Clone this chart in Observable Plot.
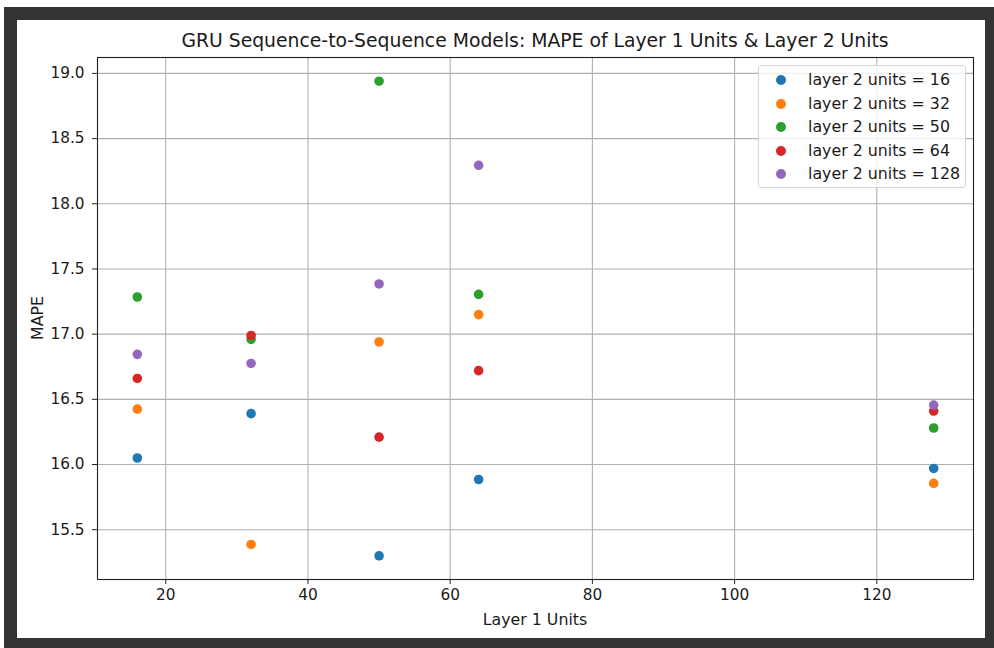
<!DOCTYPE html>
<html>
<head>
<meta charset="utf-8">
<script src="https://cdn.jsdelivr.net/npm/d3@7"></script>
<script src="https://cdn.jsdelivr.net/npm/@observablehq/plot@0.6"></script>
<style>
  html, body { margin: 0; padding: 0; width: 994px; height: 648px; overflow: hidden; background: #fff; }
  body { position: relative; font-family: "DejaVu Sans", sans-serif; color: #1a1a1a; }
  #frame { position: absolute; left: 4px; top: 7px; width: 994px; height: 644px; box-sizing: border-box; border: 13px solid #333; background: #fff; }
  #chart { position: absolute; left: 17px; top: 20px; width: 968px; height: 618px; }
  .lbl { position: absolute; white-space: nowrap; }
  #title { left: 97px; width: 876px; top: 30px; text-align: center; font-size: 18.8px; }
  #xlabel { left: 97px; width: 876px; top: 610px; text-align: center; font-size: 15.8px; }
  #ylabel { left: 37px; top: 318px; font-size: 15.8px; transform: translate(-50%, -50%) rotate(-90deg); }
  #legend { position: absolute; left: 758px; top: 65px; width: 208px; height: 123px; box-sizing: border-box;
            border: 1px solid #d6d6d6; border-radius: 3px; background: rgba(255,255,255,0.8); }
  .row { position: absolute; left: 0; height: 20px; font-size: 15.8px; line-height: 20px; }
  .sw { position: absolute; left: 17px; top: 5px; width: 10px; height: 10px; border-radius: 50%; }
  .tx { position: absolute; left: 49px; top: 0; white-space: nowrap; }
</style>
</head>
<body>
<div id="frame"></div>
<div id="chart"></div>
<div class="lbl" id="title">GRU Sequence-to-Sequence Models: MAPE of Layer 1 Units &amp; Layer 2 Units</div>
<div class="lbl" id="xlabel">Layer 1 Units</div>
<div class="lbl" id="ylabel">MAPE</div>
<div id="legend"></div>
<script>
// Layer 1 sizes on the x axis, one series per layer 2 size
const layer1Units = [16, 32, 50, 64, 128];
const layer2Units = [16, 32, 50, 64, 128];

// MAPE per layer 1 size, for each layer 2 size
const mapeL2_16  = [16.05, 16.39, 15.30, 15.885, 15.97];
const mapeL2_32  = [16.425, 15.387, 16.94, 17.15, 15.855];
const mapeL2_50  = [17.285, 16.96, 18.94, 17.305, 16.28];
const mapeL2_64  = [16.66, 16.99, 16.21, 16.72, 16.41];
const mapeL2_128 = [16.845, 16.775, 17.385, 18.295, 16.456];

const xTicks = [20, 40, 60, 80, 100, 120];
const yTicks = [15.5, 16.0, 16.5, 17.0, 17.5, 18.0, 18.5, 19.0];

const palette = ["#1f77b4", "#ff7f0e", "#2ca02c", "#d62728", "#9467bd"];
const seriesValues = [mapeL2_16, mapeL2_32, mapeL2_50, mapeL2_64, mapeL2_128];
const seriesNames = layer2Units.map(u => `layer 2 units = ${u}`);

const rows = [];
seriesValues.forEach((vals, s) => {
  vals.forEach((v, i) => rows.push({series: seriesNames[s], units: layer1Units[i], mape: v}));
});

// 5% padding around the data extent on both axes
function padded(values) {
  const [lo, hi] = d3.extent(values);
  const p = (hi - lo) * 0.05;
  return [lo - p, hi + p];
}

const plot = Plot.plot({
  width: 968,
  height: 618,
  marginLeft: 80,
  marginRight: 12,
  marginTop: 37,
  marginBottom: 59,
  style: {fontFamily: "DejaVu Sans, sans-serif", fontSize: "15.3px", color: "#1a1a1a", background: "transparent"},
  x: {domain: padded(layer1Units), label: null},
  y: {domain: padded(rows.map(d => d.mape)), label: null},
  color: {domain: seriesNames, range: palette},
  marks: [
    Plot.gridX(xTicks, {stroke: "#b0b0b0", strokeOpacity: 1, strokeWidth: 1.1}),
    Plot.gridY(yTicks, {stroke: "#b0b0b0", strokeOpacity: 1, strokeWidth: 1.1}),
    Plot.axisX(xTicks, {tickSize: 5, tickPadding: 5, stroke: "#222", label: null}),
    Plot.axisY(yTicks, {tickSize: 5, tickPadding: 8, stroke: "#222", tickFormat: d3.format(".1f"), label: null}),
    Plot.dot(rows, {x: "units", y: "mape", fill: "series", r: 4.8, stroke: null}),
    Plot.frame({stroke: "#222", strokeWidth: 1.1})
  ]
});
document.getElementById("chart").appendChild(plot);

// Legend box, one row per layer 2 size
const legend = d3.select("#legend");
seriesNames.forEach((name, i) => {
  const row = legend.append("div").attr("class", "row").style("top", `${4 + i * 23.5}px`).style("width", "100%");
  row.append("div").attr("class", "sw").style("background", palette[i]);
  row.append("div").attr("class", "tx").text(name);
});
</script>
</body>
</html>
